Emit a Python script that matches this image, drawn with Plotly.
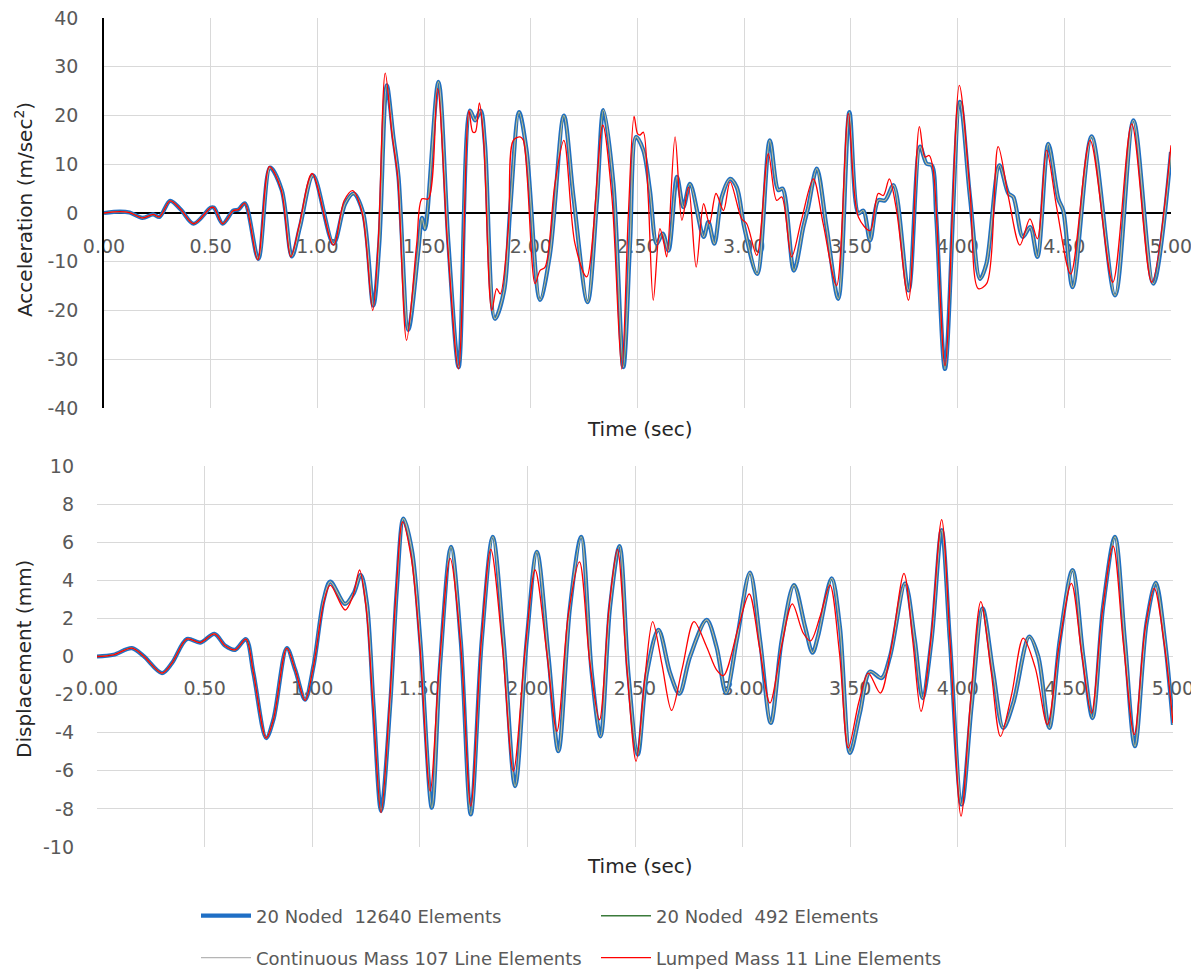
import plotly.graph_objects as go

# ---------------- DATA ----------------
series_names = [
    "20 Noded  12640 Elements",
    "20 Noded  492 Elements",
    "Continuous Mass 107 Line Elements",
    "Lumped Mass 11 Line Elements",
]

# Acceleration (m/sec^2) - finite-element curves (blue / green / grey overlap)
acc_t_fe = [0.00, 0.075, 0.12, 0.18, 0.23, 0.26, 0.31, 0.36, 0.42, 0.50, 0.515, 0.556, 0.606, 0.63, 0.66,
            0.723, 0.778, 0.833, 0.88, 0.918, 0.98, 1.075, 1.13, 1.17, 1.215, 1.262, 1.29, 1.325, 1.356,
            1.38, 1.426, 1.473, 1.49, 1.504, 1.567, 1.614, 1.662, 1.715, 1.739, 1.765, 1.785, 1.832, 1.875,
            1.903, 1.945, 1.98, 2.043, 2.09, 2.155, 2.20, 2.266, 2.31, 2.34, 2.387, 2.434, 2.465, 2.493,
            2.527, 2.558, 2.59, 2.618, 2.645, 2.685, 2.715, 2.746, 2.81, 2.832, 2.86, 2.895, 2.934, 2.965,
            3.00, 3.061, 3.12, 3.16, 3.18, 3.233, 3.277, 3.30, 3.34, 3.386, 3.441, 3.493, 3.535, 3.558,
            3.59, 3.628, 3.66, 3.70, 3.77, 3.824, 3.855, 3.879, 3.90, 3.941, 4.011, 4.058, 4.105, 4.135,
            4.196, 4.238, 4.261, 4.305, 4.34, 4.374, 4.425, 4.472, 4.495, 4.539, 4.628, 4.738, 4.824,
            4.917, 5.00]
acc_blue = [0.0, 0.3, 0.1, -1.0, -0.3, -0.8, 2.5, 0.7, -2.2, 1.1, 1.1, -2.2, 0.5, 0.7, 2.0,
            -9.4, 9.3, 4.7, -8.9, -2.9, 7.7, -6.3, 1.9, 4.0, -0.1, -19.0, -6.3, 26.2, 15.6,
            7.4, -24.0, -7.7, -1.0, -3.3, 26.9, -6.3, -31.6, 21.0, 19.0, 21.0, 14.2, -21.7, -15.9,
            0.5, 20.7, 12.9, -17.8, -8.4, 20.0, 3.3, -18.3, 2.6, 21.1, 6.0, -31.6, -6.3, 15.6,
            12.9, 4.7, -6.3, -4.2, -7.7, 7.4, 1.2, 6.0, -4.9, -1.8, -6.3, 3.3, 7.0, 5.3,
            -2.9, -12.5, 14.9, 4.7, 5.0, -11.8, -2.9, 1.2, 9.1, -2.9, -17.6, 20.7, -0.1, 0.5,
            -5.6, 2.6, 2.6, 5.7, -15.9, 13.6, 10.1, 9.8, -0.8, -32.0, 22.8, 3.3, -13.5, -10.4,
            9.8, 4.0, 3.3, -4.9, -2.9, -9.0, 14.2, 2.9, 0.5, -15.2, 15.7, -16.9, 19.0,
            -14.5, 12.5]
acc_green = [0.0, 0.3, 0.1, -1.0, -0.3, -0.8, 2.5, 0.7, -2.2, 1.1, 1.1, -2.2, 0.5, 0.7, 2.0,
             -9.4, 9.3, 4.7, -8.9, -2.9, 7.7, -6.3, 1.9, 4.0, -0.1, -19.0, -6.3, 26.2, 15.6,
             7.4, -24.0, -7.7, -1.0, -3.3, 26.9, -6.3, -31.6, 21.0, 19.0, 21.0, 14.2, -21.7, -15.9,
             0.5, 20.7, 12.9, -17.8, -8.4, 20.0, 3.3, -18.3, 2.6, 21.1, 6.0, -31.6, -6.3, 15.6,
             12.9, 4.7, -6.3, -4.2, -7.7, 7.4, 1.2, 6.0, -4.9, -1.8, -6.3, 3.3, 7.0, 5.3,
             -2.9, -12.5, 14.9, 4.7, 5.0, -11.8, -2.9, 1.2, 9.1, -2.9, -17.6, 20.7, -0.1, 0.5,
             -5.6, 2.6, 2.6, 5.7, -15.9, 13.6, 10.1, 9.8, -0.8, -32.0, 22.8, 3.3, -13.5, -10.4,
             9.8, 4.0, 3.3, -4.9, -2.9, -9.0, 14.2, 2.9, 0.5, -15.2, 15.7, -16.9, 19.0,
             -14.5, 12.5]
acc_gray = [0.0, 0.3, 0.1, -1.0, -0.3, -0.8, 2.5, 0.7, -2.2, 1.1, 1.1, -2.2, 0.5, 0.7, 2.0,
            -9.4, 9.3, 4.7, -8.9, -2.9, 7.7, -6.3, 1.9, 4.0, -0.1, -19.0, -6.3, 26.2, 15.6,
            7.4, -24.0, -7.7, -1.0, -3.3, 26.9, -6.3, -31.6, 21.0, 19.0, 21.0, 14.2, -21.7, -15.9,
            0.5, 20.7, 12.9, -17.8, -8.4, 20.0, 3.3, -18.3, 2.6, 21.1, 6.0, -31.6, -6.3, 15.6,
            12.9, 4.7, -6.3, -4.2, -7.7, 7.4, 1.2, 6.0, -4.9, -1.8, -6.3, 3.3, 7.0, 5.3,
            -2.9, -12.5, 14.9, 4.7, 5.0, -11.8, -2.9, 1.2, 9.1, -2.9, -17.6, 20.7, -0.1, 0.5,
            -5.6, 2.6, 2.6, 5.7, -15.9, 13.6, 10.1, 9.8, -0.8, -32.0, 22.8, 3.3, -13.5, -10.4,
            9.8, 4.0, 3.3, -4.9, -2.9, -9.0, 14.2, 2.9, 0.5, -15.2, 15.7, -16.9, 19.0,
            -14.5, 12.5]

# Acceleration - lumped mass model (red)
acc_t_red = [0.00, 0.075, 0.12, 0.18, 0.23, 0.26, 0.31, 0.36, 0.42, 0.50, 0.515, 0.556, 0.606, 0.63, 0.66,
             0.72, 0.775, 0.83, 0.875, 0.915, 0.975, 1.075, 1.125, 1.165, 1.21, 1.259, 1.285, 1.318,
             1.35, 1.376, 1.418, 1.465, 1.49, 1.52, 1.563, 1.61, 1.661, 1.71, 1.728, 1.74, 1.759, 1.778,
             1.817, 1.84, 1.857, 1.895, 1.918, 1.95, 1.965, 2.02, 2.043, 2.067, 2.113, 2.155, 2.207,
             2.262, 2.337, 2.38, 2.426, 2.457, 2.484, 2.50, 2.512, 2.527, 2.55, 2.574, 2.605, 2.624,
             2.637, 2.676, 2.708, 2.739, 2.775, 2.81, 2.837, 2.868, 2.903, 2.934, 2.988, 3.012, 3.059,
             3.113, 3.152, 3.176, 3.222, 3.268, 3.324, 3.37, 3.433, 3.488, 3.535, 3.59, 3.628, 3.652,
             3.68, 3.714, 3.77, 3.821, 3.847, 3.867, 3.886, 3.941, 4.008, 4.058, 4.097, 4.136, 4.19,
             4.238, 4.292, 4.339, 4.374, 4.417, 4.464, 4.53, 4.621, 4.727, 4.816, 4.909, 5.00]
acc_red = [0.0, 0.3, 0.1, -1.0, -0.3, -0.8, 2.5, 0.7, -2.2, 1.1, 1.1, -2.2, 0.5, 0.7, 2.0,
           -9.6, 9.5, 4.8, -9.0, -2.5, 8.1, -6.6, 2.5, 4.6, 0.0, -20.0, -6.0, 28.7,
           16.0, 7.5, -26.1, -6.5, 2.9, 2.9, 25.5, -6.5, -32.0, 21.0, 16.6, 16.6, 22.6, 15.6,
           -20.0, -15.5, -16.6, -2.9, 14.9, 15.6, 14.9, -14.5, -11.8, -11.1, 6.0, 14.9, -6.3,
           -13.1, 18.0, 3.3, -32.0, -0.5, 19.8, 16.3, 16.0, 16.6, 3.3, -17.9, -3.2, -6.3,
           -9.0, 15.6, -1.5, 5.3, -11.1, 1.9, -2.2, 4.0, 0.5, 6.4, -1.2, -2.2, -8.7,
           12.2, 2.6, 3.3, -9.0, -1.5, 7.0, -2.2, -14.9, 20.4, -0.8, -3.6, 4.0, 3.6,
           7.0, 0.5, -17.9, 17.7, 11.5, 11.8, 8.8, -31.3, 26.2, 4.5, -15.5, -14.5, 13.6,
           3.3, -6.6, -1.2, -5.3, 12.9, 1.2, -12.5, 14.9, -14.2, 18.3, -14.2, 13.9]

# Displacement (mm) - finite-element curves
dis_t_fe = [0.00, 0.077, 0.162, 0.216, 0.302, 0.348, 0.418, 0.48, 0.546, 0.596, 0.642, 0.692, 0.727,
            0.786, 0.82, 0.882, 0.921, 0.967, 1.006, 1.053, 1.084, 1.153, 1.192, 1.226, 1.254, 1.285,
            1.32, 1.362, 1.393, 1.424, 1.463, 1.502, 1.556, 1.594, 1.645, 1.69, 1.737, 1.788, 1.839,
            1.889, 1.943, 1.997, 2.044, 2.098, 2.144, 2.198, 2.25, 2.299, 2.34, 2.384, 2.428, 2.469,
            2.513, 2.555, 2.609, 2.663, 2.706, 2.756, 2.833, 2.879, 2.923, 2.973, 3.034, 3.081, 3.131,
            3.182, 3.239, 3.29, 3.325, 3.35, 3.414, 3.452, 3.499, 3.545, 3.592, 3.646, 3.685, 3.755,
            3.80, 3.836, 3.878, 3.925, 3.963, 4.018, 4.064, 4.115, 4.165, 4.211, 4.258, 4.332, 4.374,
            4.425, 4.474, 4.533, 4.583, 4.626, 4.675, 4.73, 4.776, 4.823, 4.877, 4.92, 4.962, 5.00]
dis_blue = [0.0, 0.09, 0.44, 0.03, -0.87, -0.35, 0.92, 0.73, 1.19, 0.56, 0.35, 0.91, -0.87,
            -4.28, -3.3, 0.44, -0.7, -2.27, -0.5, 2.97, 3.93, 2.76, 3.3, 4.28, 2.8, -2.6,
            -8.1, -2.6, 3.5, 7.24, 5.6, 0.87, -7.94, -0.5, 5.76, 0.87, -8.29, 0.87, 6.28,
            0.87, -6.8, 0.87, 5.5, 0.0, -4.97, 2.6, 6.28, -0.87, -4.19, 2.6, 5.8, -0.87,
            -5.15, -0.87, 1.4, -0.87, -1.95, 0.0, 1.92, 0.5, -1.92, 0.87, 4.4, 0.87, -3.49,
            0.87, 3.75, 1.57, 0.2, 1.05, 4.1, 1.57, -5.06, -2.97, -0.79, -1.13, 0.0, 3.84,
            0.87, -2.18, 0.87, 6.63, 0.87, -7.77, -2.6, 2.53, -0.87, -3.75, -2.44, 1.05, 0.0,
            -3.75, 0.87, 4.54, 0.0, -3.23, 2.6, 6.28, 0.87, -4.71, 1.75, 3.87, 0.87, -3.58]
dis_green = [0.0, 0.09, 0.44, 0.03, -0.87, -0.35, 0.92, 0.73, 1.19, 0.56, 0.35, 0.91, -0.87,
             -4.28, -3.3, 0.44, -0.7, -2.27, -0.5, 2.97, 3.93, 2.76, 3.3, 4.28, 2.8, -2.6,
             -8.1, -2.6, 3.5, 7.24, 5.6, 0.87, -7.94, -0.5, 5.76, 0.87, -8.29, 0.87, 6.28,
             0.87, -6.8, 0.87, 5.5, 0.0, -4.97, 2.6, 6.28, -0.87, -4.19, 2.6, 5.8, -0.87,
             -5.15, -0.87, 1.4, -0.87, -1.95, 0.0, 1.92, 0.5, -1.92, 0.87, 4.4, 0.87, -3.49,
             0.87, 3.75, 1.57, 0.2, 1.05, 4.1, 1.57, -5.06, -2.97, -0.79, -1.13, 0.0, 3.84,
             0.87, -2.18, 0.87, 6.63, 0.87, -7.77, -2.6, 2.53, -0.87, -3.75, -2.44, 1.05, 0.0,
             -3.75, 0.87, 4.54, 0.0, -3.23, 2.6, 6.28, 0.87, -4.71, 1.75, 3.87, 0.87, -3.58]
dis_gray = [0.0, 0.09, 0.44, 0.03, -0.87, -0.35, 0.92, 0.73, 1.19, 0.56, 0.35, 0.91, -0.87,
            -4.28, -3.3, 0.44, -0.7, -2.27, -0.5, 2.97, 3.93, 2.76, 3.3, 4.28, 2.8, -2.6,
            -8.1, -2.6, 3.5, 7.24, 5.6, 0.87, -7.94, -0.5, 5.76, 0.87, -8.29, 0.87, 6.28,
            0.87, -6.8, 0.87, 5.5, 0.0, -4.97, 2.6, 6.28, -0.87, -4.19, 2.6, 5.8, -0.87,
            -5.15, -0.87, 1.4, -0.87, -1.95, 0.0, 1.92, 0.5, -1.92, 0.87, 4.4, 0.87, -3.49,
            0.87, 3.75, 1.57, 0.2, 1.05, 4.1, 1.57, -5.06, -2.97, -0.79, -1.13, 0.0, 3.84,
            0.87, -2.18, 0.87, 6.63, 0.87, -7.77, -2.6, 2.53, -0.87, -3.75, -2.44, 1.05, 0.0,
            -3.75, 0.87, 4.54, 0.0, -3.23, 2.6, 6.28, 0.87, -4.71, 1.75, 3.87, 0.87, -3.58]

# Displacement - lumped mass model (red)
dis_t_red = [0.00, 0.077, 0.162, 0.216, 0.302, 0.348, 0.418, 0.48, 0.546, 0.596, 0.642, 0.692, 0.727,
             0.786, 0.82, 0.882, 0.921, 0.967, 1.006, 1.053, 1.084, 1.153, 1.19, 1.22, 1.25, 1.283,
             1.32, 1.36, 1.39, 1.42, 1.46, 1.50, 1.548, 1.59, 1.641, 1.69, 1.737, 1.785, 1.83, 1.883,
             1.935, 1.99, 2.036, 2.09, 2.137, 2.19, 2.242, 2.29, 2.335, 2.378, 2.418, 2.462, 2.505,
             2.545, 2.582, 2.625, 2.67, 2.72, 2.774, 2.833, 2.879, 2.911, 2.981, 3.031, 3.078, 3.127,
             3.182, 3.231, 3.282, 3.316, 3.36, 3.406, 3.45, 3.491, 3.54, 3.584, 3.64, 3.69, 3.75, 3.79,
             3.829, 3.875, 3.925, 3.965, 4.015, 4.06, 4.107, 4.155, 4.198, 4.25, 4.304, 4.36, 4.416,
             4.47, 4.528, 4.575, 4.621, 4.67, 4.722, 4.77, 4.82, 4.87, 4.913, 4.96, 5.00]
dis_red = [0.0, 0.09, 0.44, 0.03, -0.87, -0.35, 0.92, 0.73, 1.19, 0.56, 0.35, 0.91, -0.87,
           -4.28, -3.3, 0.44, -0.7, -2.3, -0.5, 2.8, 3.75, 2.44, 3.2, 4.54, 2.6, -2.6,
           -8.2, -2.4, 3.4, 7.07, 5.2, 0.6, -7.07, -0.6, 5.15, 0.6, -7.85, 0.7, 5.62, 0.6,
           -6.02, 0.4, 4.54, 0.2, -3.93, 2.2, 4.97, -0.3, -3.32, 2.4, 5.62, -0.6, -5.5,
           -1.2, 1.83, -0.4, -2.83, -0.6, 1.83, 0.5, -0.7, -1.0, 1.57, 3.28, 0.5, -2.44,
           0.6, 2.76, 1.22, 0.82, 2.1, 3.75, 0.2, -4.8, -2.4, -0.87, -1.92, 0.4, 4.36, 0.9,
           -2.88, 0.9, 7.19, 0.6, -8.38, -2.2, 2.88, -0.8, -4.19, -2.0, 0.96, -0.6, -3.58,
           0.5, 3.84, 0.2, -2.97, 2.2, 5.79, 0.6, -4.1, 1.4, 3.58, 0.6, -3.49]

# Tick values / labels
x_tick_vals = [0.0, 0.5, 1.0, 1.5, 2.0, 2.5, 3.0, 3.5, 4.0, 4.5, 5.0]
acc_tick_vals = [-40, -30, -20, -10, 0, 10, 20, 30, 40]
acc_tick_text = ["-40", "-30", "-20", "-10", "0", "10", "20", "30", "40"]
dis_tick_vals = [-10, -8, -6, -4, -2, 0, 2, 4, 6, 8, 10]
dis_tick_text = ["-10", "-8", "-6", "-4", "-2", "0", "2", "4", "6", "8", "10"]

# ---------------- STYLE / LAYOUT ----------------
OFF = 8                      # default body margin of the html page
W, H = 1199 - OFF, 969 - OFF
FONT = "DejaVu Sans"
TICK_COLOR = "#595959"
TITLE_COLOR = "#262626"
GRID = "#D9D9D9"
colors = ["#1F6FC5", "#3B7A3B", "#B5B5B5", "#FF0000"]
widths = [4.2, 1.5, 1.2, 1.3]
legend_ids = ["legend", "legend", "legend2", "legend2"]


def fx(p):
    return (p - OFF) / W


def fy(p):
    return 1 - (p - OFF) / H


fig = go.Figure()

acc_sets = [(acc_t_fe, acc_blue), (acc_t_fe, acc_green), (acc_t_fe, acc_gray), (acc_t_red, acc_red)]
dis_sets = [(dis_t_fe, dis_blue), (dis_t_fe, dis_green), (dis_t_fe, dis_gray), (dis_t_red, dis_red)]

for i, (t, v) in enumerate(acc_sets):
    fig.add_trace(go.Scatter(
        x=t, y=v, mode="lines", name=series_names[i],
        line=dict(color=colors[i], width=widths[i], shape="spline", smoothing=0.9),
        xaxis="x", yaxis="y", legend=legend_ids[i], showlegend=True))
for i, (t, v) in enumerate(dis_sets):
    fig.add_trace(go.Scatter(
        x=t, y=v, mode="lines", name=series_names[i],
        line=dict(color=colors[i], width=widths[i], shape="spline", smoothing=0.9),
        xaxis="x2", yaxis="y2", legend=legend_ids[i], showlegend=False))

tickfont = dict(family=FONT, size=19, color=TICK_COLOR)
legfont = dict(family=FONT, size=18, color=TICK_COLOR)
titlefont = dict(family=FONT, size=20, color=TITLE_COLOR)

top_l, top_r, top_t, top_b = 104, 1171, 18, 408
bot_l, bot_r, bot_t, bot_b = 97, 1173, 466, 847

fig.update_layout(
    width=W, height=H,
    margin=dict(l=0, r=0, t=0, b=0, autoexpand=False),
    paper_bgcolor="white", plot_bgcolor="white",
    font=dict(family=FONT, color=TICK_COLOR),
    xaxis=dict(domain=[fx(top_l), fx(top_r)], range=[0, 5], tickvals=x_tick_vals, tickformat=".2f",
               anchor="free", position=fy((top_t + top_b) / 2), showgrid=True, gridcolor=GRID,
               gridwidth=1, zeroline=False, showline=False, ticks="", ticklabelstandoff=20,
               ticklabeloverflow="allow", tickfont=tickfont, layer="below traces", automargin=False),
    yaxis=dict(domain=[fy(top_b), fy(top_t)], range=[-40, 40], tickvals=acc_tick_vals,
               ticktext=acc_tick_text, anchor="x",
               showgrid=True, gridcolor=GRID, zeroline=True, zerolinecolor="black", zerolinewidth=1.5,
               showline=True, linecolor="black", linewidth=1.5, ticks="", ticklabelstandoff=20,
               ticklabeloverflow="allow", tickfont=tickfont, automargin=False),
    xaxis2=dict(domain=[fx(bot_l), fx(bot_r)], range=[0, 5], tickvals=x_tick_vals, tickformat=".2f",
                anchor="free", position=fy((bot_t + bot_b) / 2), showgrid=True, gridcolor=GRID,
                gridwidth=1, zeroline=False, showline=False, ticks="", ticklabelstandoff=18,
                ticklabeloverflow="allow", tickfont=tickfont, layer="below traces", automargin=False),
    yaxis2=dict(domain=[fy(bot_b), fy(bot_t)], range=[-10, 10], tickvals=dis_tick_vals,
                ticktext=dis_tick_text, anchor="x2",
                showgrid=True, gridcolor=GRID, zeroline=False, showline=False, ticks="",
                ticklabelstandoff=22, ticklabeloverflow="allow", tickfont=tickfont, automargin=False),
    legend=dict(orientation="h", xref="container", yref="container", x=fx(196), y=fy(916),
                xanchor="left", yanchor="middle", entrywidth=335, entrywidthmode="pixels",
                font=legfont, bgcolor="rgba(0,0,0,0)", itemwidth=50, traceorder="normal"),
    legend2=dict(orientation="h", xref="container", yref="container", x=fx(196), y=fy(958),
                 xanchor="left", yanchor="middle", entrywidth=335, entrywidthmode="pixels",
                 font=legfont, bgcolor="rgba(0,0,0,0)", itemwidth=50, traceorder="normal"),
    annotations=[
        dict(text="Acceleration (m/sec<sup>2</sup>)", xref="paper", yref="paper", x=fx(24), y=fy(210),
             textangle=-90, showarrow=False, font=titlefont, xanchor="center", yanchor="middle"),
        dict(text="Time (sec)", xref="paper", yref="paper", x=fx(640), y=fy(429),
             showarrow=False, font=titlefont, xanchor="center", yanchor="middle"),
        dict(text="Displacement (mm)", xref="paper", yref="paper", x=fx(24), y=fy(659),
             textangle=-90, showarrow=False, font=titlefont, xanchor="center", yanchor="middle"),
        dict(text="Time (sec)", xref="paper", yref="paper", x=fx(640), y=fy(866),
             showarrow=False, font=titlefont, xanchor="center", yanchor="middle"),
    ],
)

fig.write_html("out.html")
